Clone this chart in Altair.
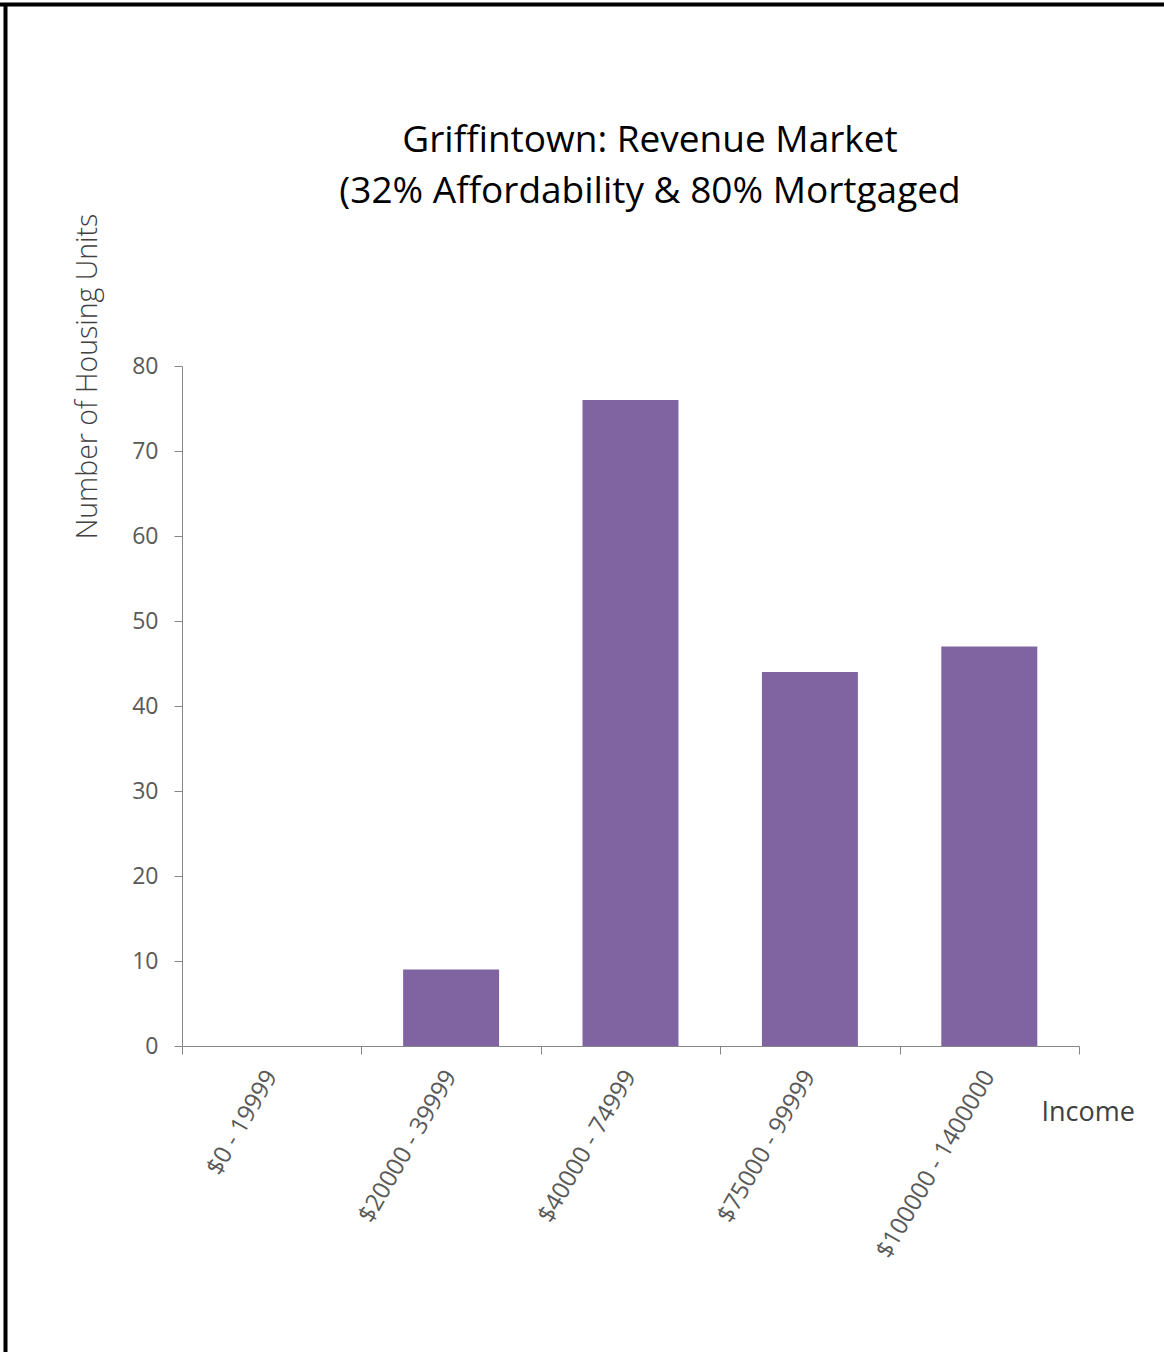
import altair as alt
import pandas as pd

# ---- data ----
categories = ["$0 - 19999", "$20000 - 39999", "$40000 - 74999",
              "$75000 - 99999", "$100000 - 1400000"]
units = [0, 9, 76, 44, 47]
y_ticks = [0, 10, 20, 30, 40, 50, 60, 70, 80]
edges = [0, 1, 2, 3, 4, 5]
title_lines = ["Griffintown: Revenue Market", "(32% Affordability & 80% Mortgaged"]
y_title = "Number of Housing Units"
x_title = "Income"

df = pd.DataFrame({"Income": categories, "Units": units})
edge_df = pd.DataFrame({"edge": edges})

FONT = "Open Sans"
W, H = 897, 680
PAD_L, PAD_T = 182, 366
AXIS_GRAY = "#868686"
LABEL_GRAY = "#595959"

bars = alt.Chart(df).mark_bar(color="#8064A2").encode(
    x=alt.X(
        "Income:N", sort=categories,
        scale=alt.Scale(paddingInner=0.465, paddingOuter=0.2325),
        axis=alt.Axis(orient="bottom", title=None, ticks=False, domain=False,
                      labelAngle=300, labelAlign="right", labelBaseline="middle",
                      labelPadding=26, labelFontSize=24, labelColor=LABEL_GRAY,
                      labelFont=FONT, labelLimit=0),
    ),
    y=alt.Y(
        "Units:Q",
        scale=alt.Scale(domain=[0, 80], nice=False),
        axis=alt.Axis(values=y_ticks, tickSize=8, tickColor=AXIS_GRAY,
                      domainColor=AXIS_GRAY, grid=False,
                      labelFontSize=23, labelColor=LABEL_GRAY, labelFont=FONT,
                      labelPadding=16,
                      title=y_title, titleFont=FONT, titleFontSize=28.5,
                      titleFontWeight=300, titleColor="#404040",
                      titleAngle=270, titleX=-95, titleY=10,
                      titleAlign="center", titleBaseline="middle"),
    ),
)

edge_layer = alt.Chart(edge_df).mark_point(opacity=0).encode(
    x=alt.X(
        "edge:Q",
        scale=alt.Scale(domain=[0, 5], nice=False, zero=False),
        axis=alt.Axis(orient="bottom", values=edges, labels=False, grid=False,
                      tickSize=8, tickColor=AXIS_GRAY, domainColor=AXIS_GRAY,
                      title=x_title, titleFont=FONT, titleFontSize=27,
                      titleFontWeight="normal", titleColor="#404040",
                      titleX=859, titleY=74, titleAlign="left",
                      titleBaseline="alphabetic"),
    ),
)

one = alt.Data(values=[{"k": 1}])

title_text = alt.Chart(one).mark_text(
    font=FONT, fontSize=37, color="#000000", align="center",
    baseline="alphabetic", lineHeight=51,
).encode(
    text=alt.value(title_lines), x=alt.value(468), y=alt.value(-214),
)

top_border = alt.Chart(one).mark_rule(color="black", strokeWidth=4).encode(
    x=alt.value(-PAD_L), x2=alt.value(1164 - PAD_L), y=alt.value(4.5 - PAD_T)
)
left_border = alt.Chart(one).mark_rule(color="black", strokeWidth=4).encode(
    x=alt.value(5.5 - PAD_L), y=alt.value(3 - PAD_T), y2=alt.value(1352 - PAD_T)
)

chart = alt.layer(bars, edge_layer, title_text, top_border, left_border).resolve_scale(
    x="independent"
).properties(
    width=W, height=H,
    autosize=alt.AutoSizeParams(type="none"),
    padding={"left": PAD_L, "top": PAD_T, "right": 1164 - PAD_L - W,
             "bottom": 1352 - PAD_T - H},
    background="white",
).configure_view(stroke=None)

chart.save("out.html", embed_options={"renderer": "svg", "actions": False})
